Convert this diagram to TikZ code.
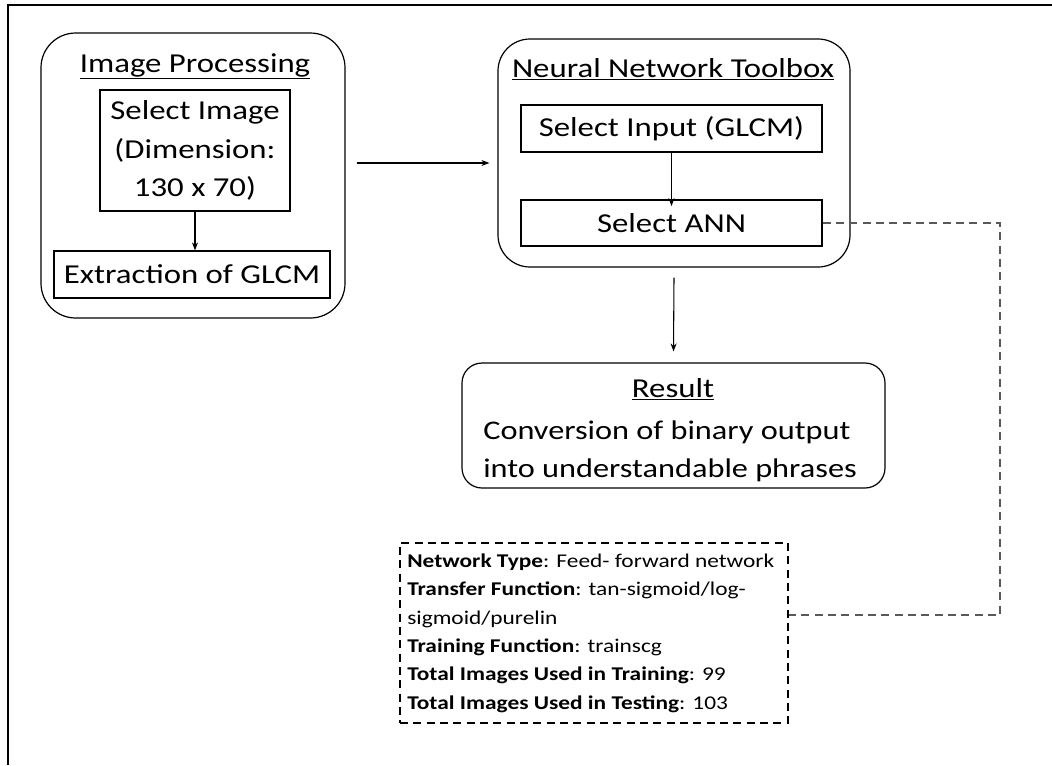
\documentclass[tikz,border=0pt]{standalone}
\usepackage{fontspec}
\setmainfont{Carlito}[FakeStretch=1.2]
\usetikzlibrary{arrows.meta}

\tikzset{
  panel/.style={draw, line width=0.9pt},
  stepbox/.style={draw, line width=0.9pt, inner sep=0pt, align=center, font=\fontsize{20.5}{29}\selectfont},
  heading/.style={anchor=base, font=\fontsize{20.5}{24}\selectfont},
  flow/.style={-{Stealth[length=6pt,width=4.5pt]}, line width=0.8pt},
  link/.style={dash pattern=on 6pt off 4pt, line width=0.9pt, black!65},
}

\begin{document}
\begin{tikzpicture}[x=0.75pt, y=-0.75pt]
\useasboundingbox (0,0) rectangle (1052,765);
% frame
\draw[line width=1.5pt] (8,765) -- (8,5) -- (1052,5);

% image processing
\node[panel, rounded corners=26pt, minimum width=228pt, minimum height=213.75pt] (proc) at (193,175.5) {};
\node[heading] (proctitle) at (195,72) {\underline{Image Processing}};
\node[stepbox, minimum width=142.5pt, minimum height=90.75pt] (img) at (195,150.5) {Select Image\\(Dimension:\\130 x 70)};
\node[stepbox, minimum width=207pt, minimum height=35.25pt] (glcm) at (192,274.5) {Extraction of GLCM};

% neural network toolbox
\node[panel, rounded corners=24pt, minimum width=264pt, minimum height=171pt] (nnt) at (674,153) {};
\node[heading] (nnttitle) at (673,77) {\underline{Neural Network Toolbox}};
\node[stepbox, minimum width=225.75pt, minimum height=35.25pt] (inp) at (671.5,128.5) {Select Input (GLCM)};
\node[stepbox, minimum width=225.75pt, minimum height=34.5pt] (ann) at (671.5,223) {Select ANN};

% result
\node[panel, rounded corners=15pt, minimum width=317.25pt, minimum height=93.75pt] (res) at (673.5,425.5) {};
\node[heading] (restitle) at (673,397) {\underline{Result}};
\node[anchor=base west, inner sep=0pt, align=flush left, font=\fontsize{20.2}{28}\selectfont] (restext) at (483,477) {Conversion of binary output\\into understandable phrases};

% settings
\node[draw, dash pattern=on 6pt off 4pt, line width=0.9pt, text width=280pt, inner xsep=5.5pt, minimum height=135pt, align=flush left, font=\fontsize{14.6}{21.25}\selectfont] (info) at (594,633) {\textbf{Network Type}: Feed- forward network\\
\textbf{Transfer Function}: tan-sigmoid/log-\\sigmoid/purelin\\
\textbf{Training Function}: trainscg\\
\textbf{Total Images Used in Training}: 99\\
\textbf{Total Images Used in Testing}: 103};

\coordinate (turn) at (1000,615);

\draw[flow] (img.south) -- (img.south |- glcm.north);
\draw[flow] ([shift={(11,-12.5)}]proc.east) -- ([shift={(-8,10)}]nnt.west);
\draw[flow] (inp.south) -- ([yshift=-5]ann.north);
\draw[flow] ([shift={(0,10)}]nnt.south) -- ([shift={(0,-11)}]res.north);
\draw[link] (ann.east) -| (turn) -- (info.east |- turn);
\end{tikzpicture}
\end{document}
